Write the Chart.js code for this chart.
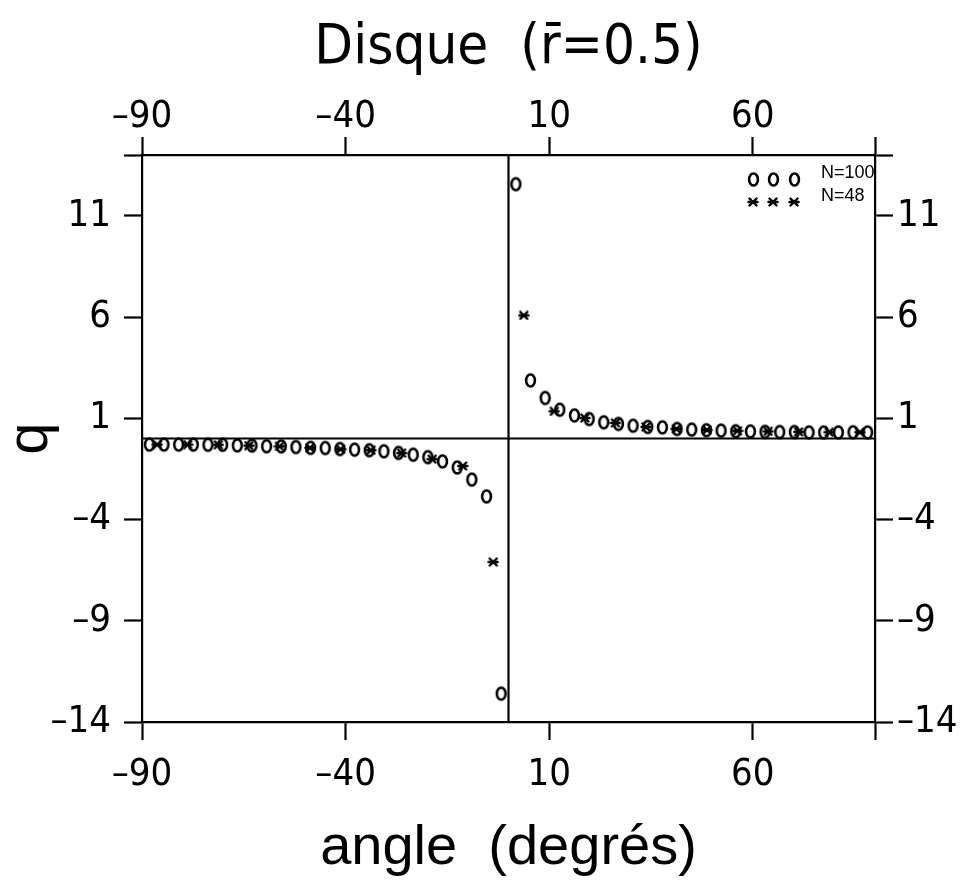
<!DOCTYPE html>
<html><head><meta charset="utf-8">
<script src="https://cdn.jsdelivr.net/npm/chart.js@4.4.1/dist/chart.umd.min.js"></script>
<style>html,body{margin:0;padding:0;background:#fff}#wrap{width:963px;height:880px;position:relative}</style>
</head><body><div id="wrap"><canvas id="c"></canvas></div>
<script>
// ---- data ----
const angles100 = [-88.2,-84.6,-81.0,-77.4,-73.8,-70.2,-66.6,-63.0,-59.4,-55.8,-52.2,-48.6,-45.0,-41.4,-37.8,-34.2,-30.6,-27.0,-23.4,-19.8,-16.2,-12.6,-9.0,-5.4,-1.8,
                   1.8,5.4,9.0,12.6,16.2,19.8,23.4,27.0,30.6,34.2,37.8,41.4,45.0,48.6,52.2,55.8,59.4,63.0,66.6,70.2,73.8,77.4,81.0,84.6,88.2];
const q100 = [-0.30,-0.30,-0.30,-0.30,-0.31,-0.31,-0.34,-0.35,-0.38,-0.39,-0.42,-0.46,-0.47,-0.52,-0.55,-0.58,-0.63,-0.71,-0.80,-0.92,-1.13,-1.43,-2.03,-2.86,-12.6,
              12.56,2.87,2.00,1.42,1.14,0.96,0.80,0.72,0.63,0.57,0.55,0.47,0.44,0.41,0.39,0.36,0.35,0.33,0.32,0.32,0.30,0.30,0.30,0.31,0.30];
const angles48 = [-86.25,-78.75,-71.25,-63.75,-56.25,-48.75,-41.25,-33.75,-26.25,-18.75,-11.25,-3.75,
                  3.75,11.25,18.75,26.25,33.75,41.25,48.75,56.25,63.75,71.25,78.75,86.25];
const q48 = [-0.30,-0.30,-0.31,-0.35,-0.39,-0.46,-0.53,-0.58,-0.72,-1.02,-1.36,-6.1,
             6.08,1.34,1.01,0.77,0.57,0.47,0.42,0.38,0.35,0.33,0.31,0.31];
const seriesLabels = ['N=100','N=48'];
const angleTicks = [-90,-40,10,60,90];
const angleTickLabels = ['\u201390','\u201340','10','60',''];
const qTicks = [-14,-9,-4,1,6,11,14];
const qTickLabels = ['\u201314','\u20139','\u20134','1','6','11',''];
const chartTitle = 'Disque  (r\u0304=0.5)';
const xTitle = 'angle  (degrés)';
const yTitle = 'q';

// ---- styling ----
const NARROW = "'Liberation Sans Narrow','DejaVu Sans Condensed','Liberation Sans',sans-serif";
const REG = "'Liberation Sans','DejaVu Sans',sans-serif";
const TITLEF = "'DejaVu Sans Condensed','Liberation Sans',sans-serif";

function ellipseMarker(){
  const c=document.createElement('canvas'); c.width=15; c.height=17;
  const g=c.getContext('2d'); g.strokeStyle='#000'; g.lineWidth=2.6;
  g.beginPath(); g.ellipse(7.5,8.5,4.4,6,0,0,Math.PI*2); g.stroke(); return c;
}
function starMarker(){
  const c=document.createElement('canvas'); c.width=12; c.height=10;
  const g=c.getContext('2d'); g.strokeStyle='#000'; g.lineWidth=2.4; g.lineCap='round';
  g.beginPath(); g.moveTo(1.5,5); g.lineTo(10.5,5);
  g.moveTo(2.5,1.5); g.lineTo(9.5,8.5); g.moveTo(2.5,8.5); g.lineTo(9.5,1.5); g.stroke(); return c;
}
const circ = ellipseMarker(), star = starMarker();

function fixTicks(vals){ return (scale)=>{ scale.ticks = vals.map(v=>({value:v})); }; }
const tickFont = {family:NARROW, size:38};
const gridOpt = {drawOnChartArea:false, tickLength:18, tickWidth:2.2, tickColor:'#000'};
const borderOpt = {display:true, color:'#000', width:2.2};

const zeroLines = {
  id:'zeroLines',
  beforeDatasetsDraw(chart){
    const {ctx, chartArea:a, scales:{x,y}} = chart;
    ctx.save(); ctx.strokeStyle='#000'; ctx.lineWidth=2.2;
    const px=x.getPixelForValue(0), py=y.getPixelForValue(0);
    ctx.beginPath(); ctx.moveTo(a.left,py); ctx.lineTo(a.right,py);
    ctx.moveTo(px,a.top); ctx.lineTo(px,a.bottom); ctx.stroke(); ctx.restore();
  }
};
const customLegend = {
  id:'customLegend',
  afterDatasetsDraw(chart){
    const {ctx, chartArea:a} = chart;
    ctx.save();
    const xs=[a.right-122,a.right-102,a.right-81];
    const rows=[{img:circ,y:a.top+24,ty:a.top+18},{img:star,y:a.top+47,ty:a.top+41}];
    rows.forEach((r,i)=>{
      xs.forEach(xx=>ctx.drawImage(r.img, Math.round(xx-r.img.width/2), Math.round(r.y-r.img.height/2)));
      ctx.fillStyle='#000'; ctx.font='18px '+REG; ctx.textBaseline='middle'; ctx.textAlign='left';
      ctx.fillText(seriesLabels[i], a.right-54, r.ty);
    });
    ctx.restore();
  }
};

new Chart(document.getElementById('c'), {
  type:'scatter',
  data:{datasets:[
    {label:seriesLabels[1], data:angles48.map((a,i)=>({x:a,y:q48[i]})), pointStyle:star, pointRadius:5, borderColor:'#000', backgroundColor:'#000', order:0},
    {label:seriesLabels[0], data:angles100.map((a,i)=>({x:a,y:q100[i]})), pointStyle:circ, pointRadius:6, borderColor:'#000', backgroundColor:'#000', order:1}
  ]},
  options:{
    responsive:true, maintainAspectRatio:false, animation:false,
    layout:{padding:0},
    plugins:{legend:{display:false}, tooltip:{enabled:false}},
    scales:{
      x:{type:'linear', position:'bottom', min:-90, max:90, afterBuildTicks:fixTicks(angleTicks),
         ticks:{autoSkip:false, maxRotation:0, font:tickFont, color:'#000', padding:12, callback:(v,i)=>angleTickLabels[i]},
         grid:gridOpt, border:borderOpt,
         title:{display:true, text:xTitle, color:'#000', font:{family:REG, size:56, lineHeight:1}, padding:{top:0,bottom:3}},
         afterFit:(s)=>{s.height=158;}},
      x2:{type:'linear', position:'top', min:-90, max:90, afterBuildTicks:fixTicks(angleTicks),
         ticks:{autoSkip:false, maxRotation:0, font:tickFont, color:'#000', padding:-3, callback:(v,i)=>angleTickLabels[i]},
         grid:gridOpt, border:borderOpt,
         title:{display:true, text:chartTitle, color:'#000', font:{family:TITLEF, size:56, lineHeight:1}, padding:{top:20,bottom:0}},
         afterFit:(s)=>{s.height=155;}},
      y:{type:'linear', position:'left', min:-14, max:14, afterBuildTicks:fixTicks(qTicks),
         ticks:{autoSkip:false, font:tickFont, color:'#000', padding:13, callback:(v,i)=>qTickLabels[i]},
         grid:gridOpt, border:borderOpt,
         title:{display:true, text:yTitle, color:'#000', font:{family:REG, size:58, lineHeight:1}, padding:{top:2,bottom:0}},
         afterFit:(s)=>{s.width=142;}},
      y2:{type:'linear', position:'right', min:-14, max:14, afterBuildTicks:fixTicks(qTicks),
         ticks:{autoSkip:false, font:tickFont, color:'#000', padding:4, callback:(v,i)=>qTickLabels[i]},
         grid:gridOpt, border:borderOpt,
         afterFit:(s)=>{s.width=88;}}
    }
  },
  plugins:[zeroLines, customLegend]
});
</script>
</body></html>
